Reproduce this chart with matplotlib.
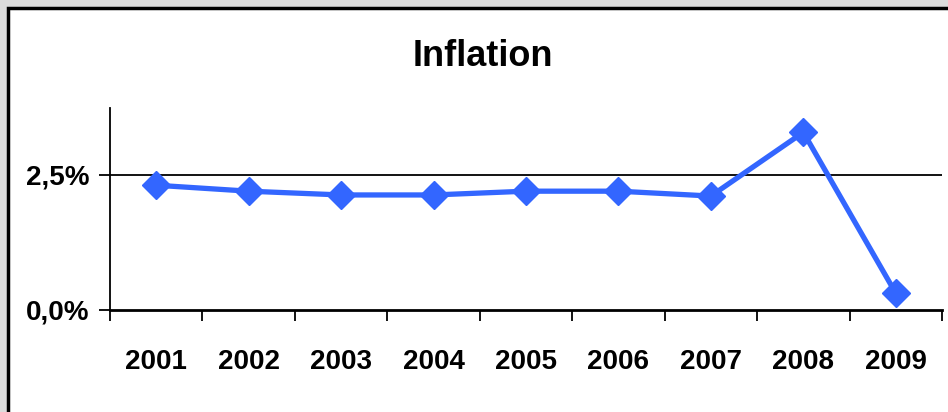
import matplotlib
matplotlib.use("Agg")
import matplotlib.pyplot as plt
from matplotlib.patches import Rectangle

years = ["2001", "2002", "2003", "2004", "2005", "2006", "2007", "2008", "2009"]
inflation = [2.31, 2.20, 2.13, 2.13, 2.20, 2.20, 2.11, 3.29, 0.31]
ytick_vals = [0.0, 2.5]
ytick_labels = ["0,0%", "2,5%"]

plt.rcParams['font.family'] = ['Liberation Sans', 'DejaVu Sans']
plt.rcParams['font.weight'] = 'bold'

W, H = 948, 412
fig = plt.figure(figsize=(W / 100, H / 100), dpi=100)
fig.patch.set_facecolor("#dcdcdc")
# white chart area with black frame (runs off the right and bottom edge)
frame = Rectangle((8 / W, -0.1), 1.1, 1 - 8 / H + 0.1, transform=fig.transFigure,
                  facecolor="white", edgecolor="black", linewidth=2.5, zorder=-5)
fig.patches.append(frame)

ax = fig.add_axes([110 / W, 1 - 310 / H, (942 - 110) / W, (310 - 108) / H])
ax.set_facecolor("none")
x = list(range(len(years)))
ax.plot(x, inflation, color="#3366ff", linewidth=3.8, marker="D", markersize=14,
        clip_on=False, zorder=3)
ax.axhline(2.5, color="black", linewidth=1.3, zorder=1)

ax.set_xlim(-0.5, len(years) - 0.5)
ax.set_ylim(0, 3.74)
ax.set_xticks([i - 0.5 for i in range(len(years) + 1)])
ax.set_xticklabels([])
ax.set_xticks(x, minor=True)
ax.set_xticklabels(years, minor=True, fontsize=20, fontweight="bold")
ax.tick_params(axis="x", which="major", direction="out", length=8, width=1.3)
ax.tick_params(axis="x", which="minor", length=0, pad=28)
ax.set_yticks(ytick_vals)
ax.set_yticklabels(ytick_labels, fontsize=20, fontweight="bold")
ax.tick_params(axis="y", direction="out", length=8, width=1.3, pad=7)

for s in ["top", "right"]:
    ax.spines[s].set_visible(False)
ax.spines["left"].set_linewidth(1.3)
ax.spines["bottom"].set_linewidth(2)

fig.text(483 / W, 1 - 56 / H, "Inflation", ha="center", va="center", fontsize=26, fontweight="bold")

fig.savefig("out.png", dpi=100, facecolor=fig.get_facecolor())
